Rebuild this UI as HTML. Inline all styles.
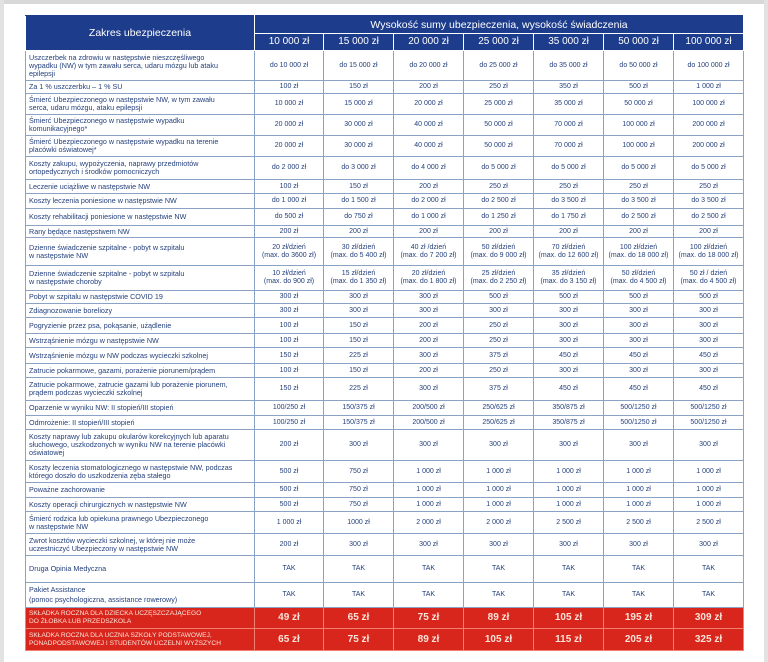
<!DOCTYPE html>
<html><head><meta charset="utf-8"><style>
html,body{margin:0;padding:0;width:768px;height:662px;background:#fff;overflow:hidden;position:relative;}
.frame{position:absolute;left:0;top:0;width:768px;height:4px;background:#d8d8d8;}
.fl{position:absolute;left:0;top:0;width:4px;height:662px;background:#e2e2e2;}
.fr{position:absolute;right:0;top:0;width:4px;height:662px;background:#e2e2e2;}
table{position:absolute;left:25px;top:15px;width:718px;border-collapse:collapse;table-layout:fixed;font-family:"Liberation Sans",sans-serif;font-size:7px;color:#233f7c;}
td{border:1px solid #8aa3c4;padding:0 3px;line-height:8px;text-align:center;vertical-align:middle;overflow:hidden;white-space:nowrap;}
td.l{text-align:left;font-size:7.2px;}
tr.h td{background:#1d3c8c;color:#fff;border:1px solid #fff;font-size:10px;border-top-color:#1d3c8c;line-height:12px;}
tr.h td.t{font-size:10.5px;}
tr.r td{background:#d8261c;color:#fbe3d8;border:1px solid #f08070;font-size:10px;font-weight:bold;}
tr.r td.l{font-size:6.6px;font-weight:normal;line-height:8px;}
</style></head><body>
<div class="frame"></div><div class="fl"></div><div class="fr"></div>
<table>
<colgroup><col style="width:229px"><col style="width:69px"><col style="width:70px"><col style="width:70px"><col style="width:70px"><col style="width:70px"><col style="width:70px"><col style="width:70px"></colgroup>
<tr class="h" style="height:18px"><td rowspan="2" class="t">Zakres ubezpieczenia</td><td colspan="7" class="t">Wysokość sumy ubezpieczenia, wysokość świadczenia</td></tr>
<tr class="h" style="height:17px"><td>10 000 zł</td><td>15 000 zł</td><td>20 000 zł</td><td>25 000 zł</td><td>35 000 zł</td><td>50 000 zł</td><td>100 000 zł</td></tr>
<tr style="height:30px"><td class="l">Uszczerbek na zdrowiu w następstwie nieszczęśliwego<br>wypadku (NW) w tym zawału serca, udaru mózgu lub ataku<br>epilepsji</td><td>do 10 000 zł</td><td>do 15 000 zł</td><td>do 20 000 zł</td><td>do 25 000 zł</td><td>do 35 000 zł</td><td>do 50 000 zł</td><td>do 100 000 zł</td></tr>
<tr style="height:13px"><td class="l">Za 1 % uszczerbku – 1 % SU</td><td>100 zł</td><td>150 zł</td><td>200 zł</td><td>250 zł</td><td>350 zł</td><td>500 zł</td><td>1 000 zł</td></tr>
<tr style="height:21px"><td class="l">Śmierć Ubezpieczonego w następstwie NW, w tym zawału<br>serca, udaru mózgu, ataku epilepsji</td><td>10 000 zł</td><td>15 000 zł</td><td>20 000 zł</td><td>25 000 zł</td><td>35 000 zł</td><td>50 000 zł</td><td>100 000 zł</td></tr>
<tr style="height:21px"><td class="l">Śmierć Ubezpieczonego w następstwie wypadku<br>komunikacyjnego*</td><td>20 000 zł</td><td>30 000 zł</td><td>40 000 zł</td><td>50 000 zł</td><td>70 000 zł</td><td>100 000 zł</td><td>200 000 zł</td></tr>
<tr style="height:21px"><td class="l">Śmierć Ubezpieczonego w następstwie wypadku na terenie<br>placówki oświatowej*</td><td>20 000 zł</td><td>30 000 zł</td><td>40 000 zł</td><td>50 000 zł</td><td>70 000 zł</td><td>100 000 zł</td><td>200 000 zł</td></tr>
<tr style="height:23px"><td class="l">Koszty zakupu, wypożyczenia, naprawy przedmiotów<br>ortopedycznych i środków pomocniczych</td><td>do 2 000 zł</td><td>do 3 000 zł</td><td>do 4 000 zł</td><td>do 5 000 zł</td><td>do 5 000 zł</td><td>do 5 000 zł</td><td>do 5 000 zł</td></tr>
<tr style="height:14px"><td class="l">Leczenie uciążliwe w następstwie NW</td><td>100 zł</td><td>150 zł</td><td>200 zł</td><td>250 zł</td><td>250 zł</td><td>250 zł</td><td>250 zł</td></tr>
<tr style="height:15px"><td class="l">Koszty leczenia poniesione w następstwie NW</td><td>do 1 000 zł</td><td>do 1 500 zł</td><td>do 2 000 zł</td><td>do 2 500 zł</td><td>do 3 500 zł</td><td>do 3 500 zł</td><td>do 3 500 zł</td></tr>
<tr style="height:17px"><td class="l">Koszty rehabilitacji poniesione w następstwie NW</td><td>do 500 zł</td><td>do 750 zł</td><td>do 1 000 zł</td><td>do 1 250 zł</td><td>do 1 750 zł</td><td>do 2 500 zł</td><td>do 2 500 zł</td></tr>
<tr style="height:12px"><td class="l">Rany będące następstwem NW</td><td>200 zł</td><td>200 zł</td><td>200 zł</td><td>200 zł</td><td>200 zł</td><td>200 zł</td><td>200 zł</td></tr>
<tr style="height:28px"><td class="l">Dzienne świadczenie szpitalne - pobyt w szpitalu<br>w następstwie NW</td><td>20 zł/dzień<br>(max. do 3600 zł)</td><td>30 zł/dzień<br>(max. do 5 400 zł)</td><td>40 zł /dzień<br>(max. do 7 200 zł)</td><td>50 zł/dzień<br>(max. do 9 000 zł)</td><td>70 zł/dzień<br>(max. do 12 600 zł)</td><td>100 zł/dzień<br>(max. do 18 000 zł)</td><td>100 zł/dzień<br>(max. do 18 000 zł)</td></tr>
<tr style="height:25px"><td class="l">Dzienne świadczenie szpitalne - pobyt w szpitalu<br>w następstwie choroby</td><td>10 zł/dzień<br>(max. do 900 zł)</td><td>15 zł/dzień<br>(max. do 1 350 zł)</td><td>20 zł/dzień<br>(max. do 1 800 zł)</td><td>25 zł/dzień<br>(max. do 2 250 zł)</td><td>35 zł/dzień<br>(max. do 3 150 zł)</td><td>50 zł/dzień<br>(max. do 4 500 zł)</td><td>50 zł / dzień<br>(max. do 4 500 zł)</td></tr>
<tr style="height:13px"><td class="l">Pobyt w szpitalu w następstwie COVID 19</td><td>300 zł</td><td>300 zł</td><td>300 zł</td><td>500 zł</td><td>500 zł</td><td>500 zł</td><td>500 zł</td></tr>
<tr style="height:14px"><td class="l">Zdiagnozowanie boreliozy</td><td>300 zł</td><td>300 zł</td><td>300 zł</td><td>300 zł</td><td>300 zł</td><td>300 zł</td><td>300 zł</td></tr>
<tr style="height:16px"><td class="l">Pogryzienie przez psa, pokąsanie, użądlenie</td><td>100 zł</td><td>150 zł</td><td>200 zł</td><td>250 zł</td><td>300 zł</td><td>300 zł</td><td>300 zł</td></tr>
<tr style="height:14px"><td class="l">Wstrząśnienie mózgu w następstwie NW</td><td>100 zł</td><td>150 zł</td><td>200 zł</td><td>250 zł</td><td>300 zł</td><td>300 zł</td><td>300 zł</td></tr>
<tr style="height:16px"><td class="l">Wstrząśnienie mózgu w NW podczas wycieczki szkolnej</td><td>150 zł</td><td>225 zł</td><td>300 zł</td><td>375 zł</td><td>450 zł</td><td>450 zł</td><td>450 zł</td></tr>
<tr style="height:14px"><td class="l">Zatrucie pokarmowe, gazami, porażenie piorunem/prądem</td><td>100 zł</td><td>150 zł</td><td>200 zł</td><td>250 zł</td><td>300 zł</td><td>300 zł</td><td>300 zł</td></tr>
<tr style="height:23px"><td class="l">Zatrucie pokarmowe, zatrucie gazami lub porażenie piorunem,<br>prądem podczas wycieczki szkolnej</td><td>150 zł</td><td>225 zł</td><td>300 zł</td><td>375 zł</td><td>450 zł</td><td>450 zł</td><td>450 zł</td></tr>
<tr style="height:15px"><td class="l">Oparzenie w wyniku NW: II stopień/III stopień</td><td>100/250 zł</td><td>150/375 zł</td><td>200/500 zł</td><td>250/625 zł</td><td>350/875 zł</td><td>500/1250 zł</td><td>500/1250 zł</td></tr>
<tr style="height:14px"><td class="l">Odmrożenie: II stopień/III stopień</td><td>100/250 zł</td><td>150/375 zł</td><td>200/500 zł</td><td>250/625 zł</td><td>350/875 zł</td><td>500/1250 zł</td><td>500/1250 zł</td></tr>
<tr style="height:31px"><td class="l">Koszty naprawy lub zakupu okularów korekcyjnych lub aparatu<br>słuchowego, uszkodzonych w wyniku NW na terenie placówki<br>oświatowej</td><td>200 zł</td><td>300 zł</td><td>300 zł</td><td>300 zł</td><td>300 zł</td><td>300 zł</td><td>300 zł</td></tr>
<tr style="height:22px"><td class="l">Koszty leczenia stomatologicznego w następstwie NW, podczas<br>którego doszło do uszkodzenia zęba stałego</td><td>500 zł</td><td>750 zł</td><td>1 000 zł</td><td>1 000 zł</td><td>1 000 zł</td><td>1 000 zł</td><td>1 000 zł</td></tr>
<tr style="height:15px"><td class="l">Poważne zachorowanie</td><td>500 zł</td><td>750 zł</td><td>1 000 zł</td><td>1 000 zł</td><td>1 000 zł</td><td>1 000 zł</td><td>1 000 zł</td></tr>
<tr style="height:14px"><td class="l">Koszty operacji chirurgicznych w następstwie NW</td><td>500 zł</td><td>750 zł</td><td>1 000 zł</td><td>1 000 zł</td><td>1 000 zł</td><td>1 000 zł</td><td>1 000 zł</td></tr>
<tr style="height:22px"><td class="l">Śmierć rodzica lub opiekuna prawnego Ubezpieczonego<br>w następstwie NW</td><td>1 000 zł</td><td>1000 zł</td><td>2 000 zł</td><td>2 000 zł</td><td>2 500 zł</td><td>2 500 zł</td><td>2 500 zł</td></tr>
<tr style="height:22px"><td class="l">Zwrot kosztów wycieczki szkolnej, w której nie może<br>uczestniczyć Ubezpieczony w następstwie NW</td><td>200 zł</td><td>300 zł</td><td>300 zł</td><td>300 zł</td><td>300 zł</td><td>300 zł</td><td>300 zł</td></tr>
<tr style="height:27px"><td class="l">Druga Opinia Medyczna</td><td>TAK</td><td>TAK</td><td>TAK</td><td>TAK</td><td>TAK</td><td>TAK</td><td>TAK</td></tr>
<tr style="height:25px"><td class="l" style="line-height:10px">Pakiet Assistance<br>(pomoc psychologiczna, assistance rowerowy)</td><td>TAK</td><td>TAK</td><td>TAK</td><td>TAK</td><td>TAK</td><td>TAK</td><td>TAK</td></tr>
<tr class="r" style="height:21px"><td class="l">SKŁADKA ROCZNA DLA DZIECKA UCZĘSZCZAJĄCEGO<br>DO ŻŁOBKA LUB PRZEDSZKOLA</td><td>49 zł</td><td>65 zł</td><td>75 zł</td><td>89 zł</td><td>105 zł</td><td>195 zł</td><td>309 zł</td></tr>
<tr class="r" style="height:22px"><td class="l">SKŁADKA ROCZNA DLA UCZNIA SZKOŁY PODSTAWOWEJ,<br>PONADPODSTAWOWEJ I STUDENTÓW UCZELNI WYŻSZYCH</td><td>65 zł</td><td>75 zł</td><td>89 zł</td><td>105 zł</td><td>115 zł</td><td>205 zł</td><td>325 zł</td></tr>
</table>
</body></html>
